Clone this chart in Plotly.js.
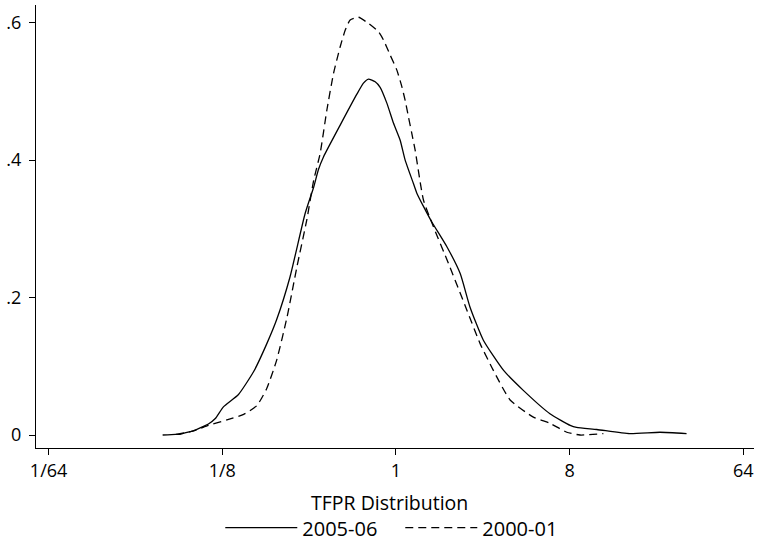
<!DOCTYPE html>
<html>
<head>
<meta charset="utf-8">
<script src="https://cdn.plot.ly/plotly-3.0.1.min.js"></script>
<style>
  html, body { margin: 0; padding: 0; background: #ffffff; }
  #chart { width: 758px; height: 541px; }
</style>
</head>
<body>
<div id="chart"></div>
<script>
// x values are log2(TFPR); the axis labels show them as powers of two
const xTickVals = [-6, -3, 0, 3, 6];
const xTickText = ["1/64", "1/8", "1", "8", "64"];
const yTickVals = [0, 0.2, 0.4, 0.6];
const yTickText = ["0", ".2", ".4", ".6"];
const xTitle = "TFPR Distribution";

const seriesNames = ["2005-06", "2000-01"];

const x2005 = [-4.03, -3.81, -3.73, -3.55, -3.50, -3.24, -3.12, -2.98, -2.72, -2.46, -2.23, -2.06,
  -1.83, -1.57, -1.42, -1.34, -1.25, -0.963, -0.675, -0.561, -0.475, -0.359, -0.273, -0.157,
  -0.043, 0.073, 0.159, 0.302, 0.361, 0.48, 0.62, 0.88, 1.11, 1.28, 1.51, 1.86, 2.20, 2.66, 3.01,
  3.12, 3.47, 4.04, 4.56, 5.02];
const y2005 = [0.000, 0.001, 0.001, 0.005, 0.006, 0.016, 0.024, 0.041, 0.059, 0.092, 0.133, 0.168,
  0.230, 0.322, 0.361, 0.386, 0.405, 0.451, 0.496, 0.512, 0.518, 0.514, 0.506, 0.483,
  0.454, 0.429, 0.400, 0.366, 0.352, 0.332, 0.310, 0.274, 0.235, 0.186, 0.138, 0.094, 0.065, 0.031,
  0.014, 0.011, 0.008, 0.002, 0.004, 0.002];

const x2000 = [-3.80, -3.50, -3.24, -2.92, -2.63, -2.40, -2.23, -2.06, -1.88, -1.71, -1.54, -1.42,
  -1.309, -1.193, -1.079, -0.963, -0.877, -0.791, -0.647, -0.475, -0.302, -0.216, -0.100, 0.016,
  0.102, 0.159, 0.216, 0.274, 0.331, 0.475, 0.648, 0.906, 1.224, 1.454, 1.683, 1.972, 2.374, 2.662,
  2.951, 3.18, 3.583];
const y2000 = [0.001, 0.006, 0.014, 0.022, 0.030, 0.043, 0.068, 0.109, 0.172, 0.245, 0.313, 0.371,
  0.410, 0.473, 0.526, 0.565, 0.589, 0.604, 0.608, 0.599, 0.587, 0.575, 0.553, 0.531,
  0.507, 0.487, 0.463, 0.439, 0.415, 0.342, 0.303, 0.250, 0.182, 0.133, 0.094, 0.051, 0.026, 0.017,
  0.004, 0.000, 0.002];

const FONT = "Open Sans, Lato, sans-serif";

const traces = [
  {
    x: x2005, y: y2005, name: seriesNames[0], type: "scatter", mode: "lines",
    line: { color: "#000000", width: 1.3, shape: "spline", smoothing: 0.5 }
  },
  {
    x: x2000, y: y2000, name: seriesNames[1], type: "scatter", mode: "lines",
    line: { color: "#000000", width: 1.3, dash: "8px,5px", shape: "spline", smoothing: 0.5 }
  }
];

const layout = {
  width: 758, height: 541,
  paper_bgcolor: "#ffffff", plot_bgcolor: "#ffffff",
  margin: { l: 36, r: 4, t: 5, b: 93, pad: 0 },
  font: { family: FONT, color: "#000000", size: 18 },
  showlegend: true,
  legend: {
    orientation: "h",
    xref: "container", yref: "container",
    x: 0.2906, xanchor: "left", y: 0.0246, yanchor: "middle",
    font: { family: FONT, size: 20, color: "#000000" },
    bgcolor: "rgba(0,0,0,0)", itemwidth: 72, entrywidth: 93, tracegroupgap: 0
  },
  annotations: [{
    text: xTitle, xref: "paper", yref: "paper",
    x: 0.4926, y: -0.124, xanchor: "center", yanchor: "middle",
    showarrow: false, font: { family: FONT, size: 19.5, color: "#000000" }
  }],
  xaxis: {
    range: [-6.2175, 6.185],
    tickmode: "array", tickvals: xTickVals, ticktext: xTickText,
    ticks: "outside", ticklen: 6, tickwidth: 1, tickcolor: "#000000",
    showline: true, linecolor: "#000000", linewidth: 1,
    showgrid: false, zeroline: false,
    tickfont: { family: FONT, size: 18, color: "#000000" },
    automargin: false
  },
  yaxis: {
    range: [-0.0189, 0.6258],
    tickmode: "array", tickvals: yTickVals, ticktext: yTickText,
    ticks: "outside", ticklen: 6, tickwidth: 1, tickcolor: "#000000",
    showline: true, linecolor: "#000000", linewidth: 1,
    showgrid: false, zeroline: false,
    tickfont: { family: FONT, size: 18, color: "#000000" },
    ticklabelstandoff: 4,
    automargin: false
  }
};

Plotly.newPlot("chart", traces, layout, { displayModeBar: false, staticPlot: true });
</script>
</body>
</html>
